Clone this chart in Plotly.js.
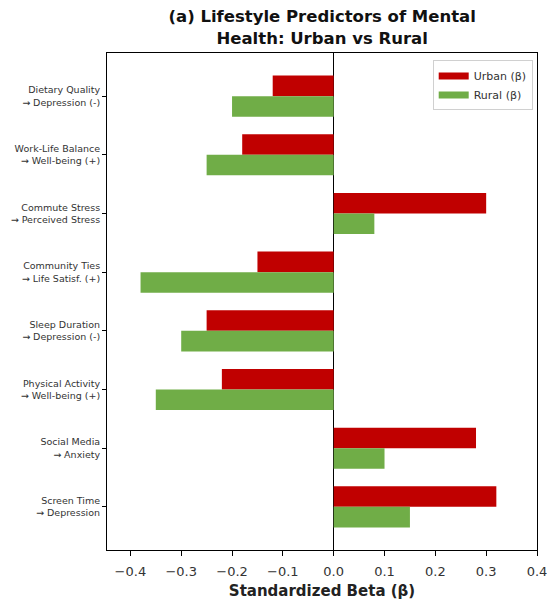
<!DOCTYPE html>
<html>
<head>
<meta charset="utf-8">
<script src="https://cdn.plot.ly/plotly-3.0.1.min.js"></script>
<style>html,body{margin:0;padding:0;background:#fff;}#chart{width:547px;height:600px;}</style>
</head>
<body>
<div id="chart"></div>
<script>
const categories = [
  "Screen Time<br>→ Depression",
  "Social Media<br>→ Anxiety",
  "Physical Activity<br>→ Well-being (+)",
  "Sleep Duration<br>→ Depression (-)",
  "Community Ties<br>→ Life Satisf. (+)",
  "Commute Stress<br>→ Perceived Stress",
  "Work-Life Balance<br>→ Well-being (+)",
  "Dietary Quality<br>→ Depression (-)"
];
const urbanBeta = [0.32, 0.28, -0.22, -0.25, -0.15, 0.30, -0.18, -0.12];
const ruralBeta = [0.15, 0.10, -0.35, -0.30, -0.38, 0.08, -0.25, -0.20];
const seriesNames = ["Urban (β)", "Rural (β)"];
const seriesColors = ["#c00000", "#70ad47"];
const xTicks = [-0.4, -0.3, -0.2, -0.1, 0.0, 0.1, 0.2, 0.3, 0.4];
const xTickText = ["−0.4", "−0.3", "−0.2", "−0.1", "0.0", "0.1", "0.2", "0.3", "0.4"];

const idx = categories.map((_, i) => i);
const barH = 0.35;

const traces = [
  {
    type: "bar", orientation: "h", name: seriesNames[0], showlegend: false,
    x: urbanBeta, y: idx.map(i => i + barH / 2), width: barH,
    marker: {color: seriesColors[0]}, hoverinfo: "x"
  },
  {
    type: "bar", orientation: "h", name: seriesNames[1], showlegend: false,
    x: ruralBeta, y: idx.map(i => i - barH / 2), width: barH,
    marker: {color: seriesColors[1]}, hoverinfo: "x"
  },
  // legend-only entries with wide rectangular swatches
  {type: "scatter", mode: "lines", name: seriesNames[0], x: [null], y: [null],
   line: {color: seriesColors[0], width: 7}},
  {type: "scatter", mode: "lines", name: seriesNames[1], x: [null], y: [null],
   line: {color: seriesColors[1], width: 7}}
];

const layout = {
  width: 547, height: 600,
  margin: {l: 107, r: 10, t: 53, b: 50},
  paper_bgcolor: "#fff", plot_bgcolor: "#fff",
  font: {family: "DejaVu Sans", color: "#000"},
  title: {
    text: "<b>(a) Lifestyle Predictors of Mental<br>Health: Urban vs Rural</b>",
    font: {family: "DejaVu Sans", size: 16.5, color: "#111"},
    x: 0.589, xanchor: "center", yref: "container", y: 0.963, yanchor: "bottom"
  },
  barmode: "overlay",
  showlegend: true,
  legend: {
    x: 0.99, xanchor: "right", y: 0.985, yanchor: "top",
    bgcolor: "rgba(255,255,255,0.8)", bordercolor: "#d0d0d0", borderwidth: 1,
    font: {size: 11, color: "#333"}, traceorder: "normal",
    itemwidth: 30, tracegroupgap: 0
  },
  xaxis: {
    range: [-0.446, 0.4],
    tickvals: xTicks, ticktext: xTickText,
    ticks: "outside", ticklen: 5, tickcolor: "#000",
    tickfont: {size: 13, color: "#333"},
    ticklabeloverflow: "allow", ticklabelstandoff: 4,
    showgrid: false, zeroline: true, zerolinecolor: "#000", zerolinewidth: 1,
    showline: true, linecolor: "#000", linewidth: 1, mirror: true,
    title: {text: "<b>Standardized Beta (β)</b>", font: {size: 15, color: "#222"}, standoff: 7}
  },
  yaxis: {
    range: [-0.735, 7.735],
    tickvals: idx, ticktext: categories,
    ticks: "outside", ticklen: 4, tickcolor: "#000",
    tickfont: {size: 9.5, color: "#333"},
    showgrid: false, zeroline: false,
    showline: true, linecolor: "#000", linewidth: 1, mirror: true
  }
};

Plotly.newPlot("chart", traces, layout, {displayModeBar: false, staticPlot: true});
</script>
</body>
</html>
